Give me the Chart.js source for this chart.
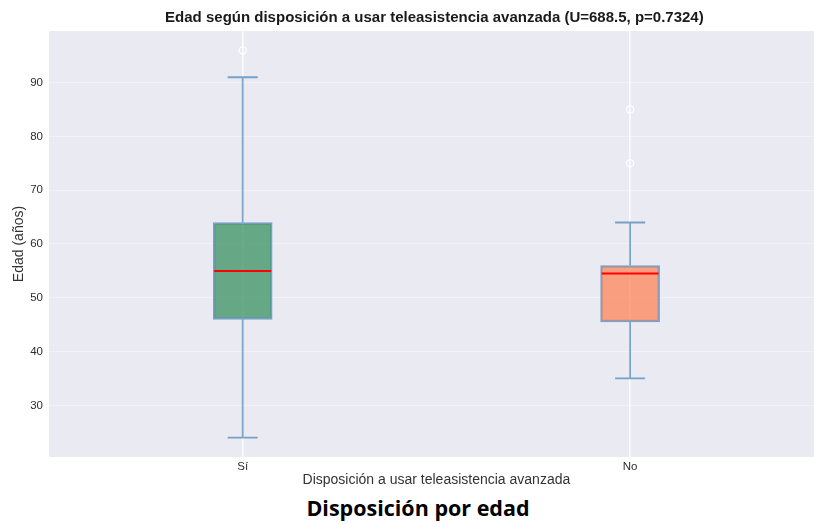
<!DOCTYPE html>
<html lang="es">
<head>
<meta charset="utf-8">
<title>Disposición por edad</title>
<script src="https://cdn.jsdelivr.net/npm/chart.js@4.4.1/dist/chart.umd.min.js"></script>
<style>
  html, body { margin: 0; padding: 0; background: #ffffff; overflow: hidden; }
  #wrap { position: relative; width: 814px; height: 524px; overflow: hidden; }
  #chart { position: absolute; left: 0; top: 0; }
  #caption {
    position: absolute; left: 11px; top: 493px; width: 814px;
    text-align: center; font-family: "Open Sans", "Noto Sans", sans-serif;
    font-weight: 700; font-size: 21.5px; line-height: 30px; color: #000;
  }
</style>
</head>
<body>
<div id="wrap">
  <!-- the figure is slightly wider than the page; its right margin is trimmed -->
  <canvas id="chart" width="829" height="490"></canvas>
  <div id="caption">Disposición por edad</div>
</div>
<script>
// Age distribution by willingness to use advanced telecare
const categories = ['Sí', 'No'];
const q1Values = [46, 45.5];
const medianValues = [55, 54.5];
const q3Values = [64, 56];
const whiskerLow = [24, 35];
const whiskerHigh = [91, 64];
const outliers = [[96], [75, 85]];
const yTicks = [30, 40, 50, 60, 70, 80, 90];

const boxFills = ['rgba(46,139,87,0.7)', 'rgba(255,127,80,0.7)'];
const edgeColor = 'rgba(70,130,180,0.7)';
const FONT = '"Liberation Sans", Arial, sans-serif';

// Whiskers + caps behind the boxes, medians on top
const boxExtras = {
  id: 'boxExtras',
  beforeDatasetsDraw(chart) {
    const { ctx, scales: { x, y } } = chart;
    ctx.save();
    ctx.strokeStyle = edgeColor;
    ctx.lineWidth = 1.8;
    const capHalf = 15;
    categories.forEach((c, i) => {
      const px = x.getPixelForValue(i);
      const lo = y.getPixelForValue(whiskerLow[i]);
      const hi = y.getPixelForValue(whiskerHigh[i]);
      const b1 = y.getPixelForValue(q1Values[i]);
      const b3 = y.getPixelForValue(q3Values[i]);
      ctx.beginPath();
      ctx.moveTo(px, b1); ctx.lineTo(px, lo);
      ctx.moveTo(px, b3); ctx.lineTo(px, hi);
      ctx.moveTo(px - capHalf, lo); ctx.lineTo(px + capHalf, lo);
      ctx.moveTo(px - capHalf, hi); ctx.lineTo(px + capHalf, hi);
      ctx.stroke();
    });
    ctx.restore();
  },
  afterDatasetsDraw(chart) {
    const { ctx, scales: { x, y } } = chart;
    const meta = chart.getDatasetMeta(0);
    ctx.save();
    ctx.strokeStyle = '#ff0000';
    ctx.lineWidth = 2;
    categories.forEach((c, i) => {
      const bar = meta.data[i];
      const half = bar.width / 2 - 1;
      const px = x.getPixelForValue(i);
      const py = y.getPixelForValue(medianValues[i]);
      ctx.beginPath();
      ctx.moveTo(px - half, py); ctx.lineTo(px + half, py);
      ctx.stroke();
    });
    ctx.restore();
  }
};

// Plot background and heading
const plotFrame = {
  id: 'plotFrame',
  beforeDraw(chart) {
    const { ctx, chartArea: a } = chart;
    ctx.save();
    ctx.fillStyle = '#EAEAF2';
    ctx.fillRect(a.left, a.top, a.right - a.left, a.bottom - a.top);
    ctx.restore();
  },
  afterDraw(chart) {
    const { ctx, chartArea: a } = chart;
    ctx.save();
    ctx.font = 'bold 15px ' + FONT;
    ctx.fillStyle = '#1a1a1a';
    ctx.textAlign = 'center';
    ctx.textBaseline = 'middle';
    ctx.fillText('Edad según disposición a usar teleasistencia avanzada (U=688.5, p=0.7324)',
      (a.left + a.right) / 2 - 2, 18);
    ctx.restore();
  }
};

const outlierPoints = [];
outliers.forEach((list, i) => list.forEach(v => outlierPoints.push({ x: i, y: v })));

new Chart(document.getElementById('chart'), {
  type: 'bar',
  data: {
    datasets: [
      {
        label: 'Caja',
        data: categories.map((c, i) => ({ x: i, y: [q1Values[i], q3Values[i]] })),
        backgroundColor: boxFills,
        borderColor: edgeColor,
        borderWidth: 1.8,
        borderSkipped: false,
        barThickness: 59,
        order: 2
      },
      {
        type: 'scatter',
        label: 'Atípicos',
        data: outlierPoints,
        pointStyle: 'circle',
        pointRadius: 3.6,
        pointBackgroundColor: 'rgba(0,0,0,0)',
        pointBorderColor: '#ffffff',
        pointBorderWidth: 1.2,
        order: 1
      }
    ]
  },
  options: {
    responsive: false,
    animation: false,
    layout: { padding: { top: 31, left: 0, right: 0, bottom: 0 } },
    plugins: {
      legend: { display: false },
      tooltip: { enabled: false },
      title: { display: false }
    },
    scales: {
      x: {
        type: 'linear',
        min: -0.5,
        max: 1.5,
        offset: false,
        afterBuildTicks(scale) { scale.ticks = categories.map((c, i) => ({ value: i })); },
        afterFit(scale) { scale.height = 33; },
        ticks: {
          callback: (v) => categories[v],
          color: '#2e2e2e',
          font: { family: FONT, size: 11.5 },
          padding: 3,
          maxRotation: 0,
          autoSkip: false
        },
        grid: { offset: false, color: 'rgba(255,255,255,0.85)', lineWidth: 1.6, drawTicks: false },
        border: { display: false },
        title: {
          display: true,
          text: 'Disposición a usar teleasistencia avanzada',
          color: '#333333',
          font: { family: FONT, size: 14 },
          padding: { top: 0, bottom: 1 }
        }
      },
      y: {
        min: 20.4,
        max: 99.6,
        afterBuildTicks(scale) { scale.ticks = yTicks.map(v => ({ value: v })); },
        afterFit(scale) { scale.width = 49; },
        ticks: {
          color: '#2e2e2e',
          font: { family: FONT, size: 11.5 },
          padding: 6
        },
        grid: { color: 'rgba(255,255,255,0.35)', lineWidth: 1, drawTicks: false },
        border: { display: false },
        title: {
          display: true,
          text: 'Edad (años)',
          color: '#333333',
          font: { family: FONT, size: 14 },
          padding: { top: 11, bottom: 0 }
        }
      }
    }
  },
  plugins: [plotFrame, boxExtras]
});
</script>
</body>
</html>
